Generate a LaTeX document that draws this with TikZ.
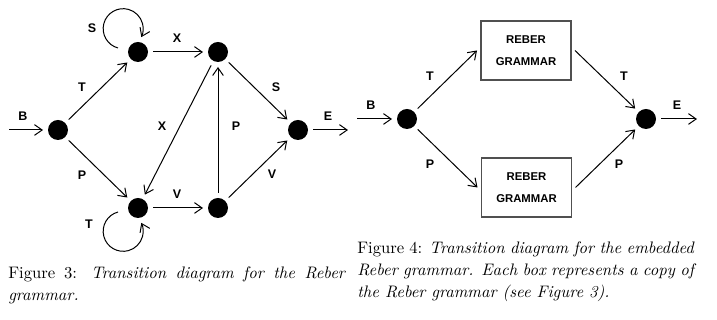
\documentclass[tikz,border=0pt]{standalone}
\usepackage{fontspec}
\usepackage{tikz}
\usetikzlibrary{arrows.meta,positioning}
\newfontfamily\labelfont{Liberation Sans}
\definecolor{boxgray}{HTML}{505050}
\tikzset{
  dot/.style={circle, fill=black, minimum size=12pt, inner sep=0pt, outer sep=3pt},
  reberbox/.style={draw=boxgray, line width=0.7pt, align=center, minimum width=54pt, minimum height=35.4pt, inner sep=2pt, outer sep=2.4pt, font=\labelfont\fontsize{6.8}{8}\selectfont\bfseries},
  lbl/.style={inner sep=0pt, font=\labelfont\fontsize{7.5}{9}\selectfont\bfseries},
  arrow/.style={-{Straight Barb[length=4.6pt,width=6.4pt]}, line width=0.6pt},
  caption/.style={anchor=north west, inner sep=0pt, text width=202pt, align=justify, font=\fontsize{10}{13.2}\selectfont}
}

\begin{document}
\begin{tikzpicture}[x=0.6pt,y=-0.6pt]
  \useasboundingbox (0,0) rectangle (717,320);

  % Reber grammar
  \node[dot] (start) at (58,130) {};
  \node[dot] (top1) at (138,52) {};
  \node[dot] (top2) at (218,52) {};
  \node[dot] (bot1) at (138,208) {};
  \node[dot] (bot2) at (218,208) {};
  \node[dot] (finish) at (298,130) {};
  \coordinate (inL) at (9,130);
  \coordinate (outL) at (348,130);

  \draw[arrow] (inL) -- (start);
  \draw[arrow] (start) -- (top1);
  \draw[arrow] (start) -- (bot1);
  \draw[arrow] (top1) -- (top2);
  \draw[arrow] (bot1) -- (bot2);
  \draw[arrow] (top2) -- (bot1);
  \draw[arrow] (bot2) -- (top2);
  \draw[arrow] (top2) -- (finish);
  \draw[arrow] (bot2) -- (finish);
  \draw[arrow] (finish) -- (outL);
  \draw[arrow] ([shift={(-20,-4)}]top1.center) arc[start angle=255, end angle=-25, radius=12pt];
  \draw[arrow] ([shift={(-20,4)}]bot1.center) arc[start angle=105, end angle=385, radius=12pt];

  \node[lbl] (lB) at (23,116) {B};
  \node[lbl] (lT) at (82,87) {T};
  \node[lbl] (lP) at (82,175) {P};
  \node[lbl] (lS) at (92,28) {S};
  \node[lbl] (lX) at (177,38) {X};
  \node[lbl] (lS2) at (276,87) {S};
  \node[lbl] (lE) at (328,116) {E};
  \node[lbl] (lX2) at (162,126) {X};
  \node[lbl] (lP2) at (236,126) {P};
  \node[lbl] (lV) at (177,194) {V};
  \node[lbl] (lV2) at (272,174) {V};
  \node[lbl] (lT2) at (89,224) {T};

  % embedded Reber grammar
  \node[dot] (estart) at (407,119) {};
  \node[dot] (efinish) at (646,119) {};
  \node[reberbox] (rebertop) at (526,50.5) {REBER\\[5.4pt]GRAMMAR};
  \node[reberbox] (reberbot) at (526.5,187.5) {REBER\\[5.4pt]GRAMMAR};
  \coordinate (inR) at (357,119);
  \coordinate (outR) at (697,119);

  \draw[arrow] (inR) -- (estart);
  \draw[arrow] (estart) -- (rebertop.west);
  \draw[arrow] (estart) -- (reberbot.west);
  \draw[arrow] (rebertop.east) -- (efinish);
  \draw[arrow] (reberbot.east) -- (efinish);
  \draw[arrow] (efinish) -- (outR);

  \node[lbl] (eB) at (371,105) {B};
  \node[lbl] (eT) at (430,76) {T};
  \node[lbl] (eP) at (430,164) {P};
  \node[lbl] (eT2) at (624,76) {T};
  \node[lbl] (eP2) at (619,164) {P};
  \node[lbl] (eE) at (677,105) {E};

  % captions
  \node[caption] (cap3) at (8,266) {Figure 3: \textit{Transition diagram for the Reber\linebreak grammar.}};
  \node[caption] (cap4) at (357,241) {Figure 4: \textit{Transition diagram for the embedded\linebreak Reber grammar. Each box represents a copy of\linebreak the Reber grammar (see Figure 3).}};
\end{tikzpicture}
\end{document}
